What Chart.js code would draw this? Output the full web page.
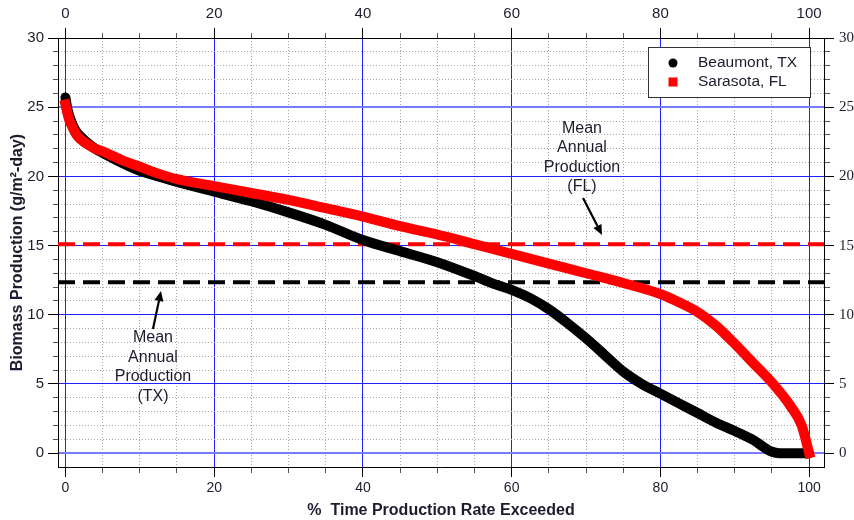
<!DOCTYPE html>
<html>
<head>
<meta charset="utf-8">
<script src="https://cdn.jsdelivr.net/npm/chart.js@4.4.0/dist/chart.umd.min.js"></script>
<style>
html,body{margin:0;padding:0;background:#ffffff;}
#wrap{width:854px;height:520px;position:relative;}
</style>
</head>
<body>
<div id="wrap"><canvas id="c"></canvas></div>
<script>
// ---------- data ----------
const seriesNames = ['Beaumont, TX', 'Sarasota, FL'];

const pctTX = [0, 0.25, 0.5, 1, 1.5, 2, 3, 4, 5, 7.5, 10, 12.5, 15, 20, 25, 30, 35, 40, 45, 50, 55, 57.5, 60, 62.5, 65, 67.5, 70, 72.5, 75, 77.5, 80, 82.5, 85, 87.5, 90, 92.5, 94, 95, 96, 98, 100];
const beaumont = [25.7, 24.9, 24.4, 23.7, 23.2, 22.9, 22.4, 22.0, 21.7, 21.0, 20.4, 20.0, 19.6, 18.9, 18.2, 17.4, 16.5, 15.4, 14.6, 13.8, 12.8, 12.25, 11.8, 11.2, 10.4, 9.4, 8.3, 7.1, 5.9, 5.0, 4.3, 3.6, 2.9, 2.2, 1.6, 0.95, 0.4, 0.1, 0, 0, 0];

const pctFL = [0, 0.25, 0.5, 1, 1.5, 2, 3, 4, 5, 7.5, 10, 12.5, 15, 20, 25, 30, 35, 40, 45, 50, 55, 60, 65, 70, 75, 80, 82.5, 85, 87.5, 90, 92.5, 95, 97.5, 99, 100];
const sarasota = [25.2, 24.6, 24.1, 23.5, 23.0, 22.7, 22.3, 22.0, 21.8, 21.2, 20.7, 20.2, 19.8, 19.3, 18.8, 18.3, 17.7, 17.1, 16.4, 15.8, 15.1, 14.4, 13.7, 13.0, 12.3, 11.5, 10.9, 10.2, 9.2, 7.9, 6.5, 5.1, 3.4, 2.0, 0];

const meanTX = 12.35;
const meanFL = 15.1;

const xTickLabels = [0, 20, 40, 60, 80, 100];
const yTickLabels = [0, 5, 10, 15, 20, 25, 30];
const xMinorStep = 5;
const yMinorStep = 1;
const xRange = [-1, 102];
const yRange = [-1, 30];

const xTitle = '%  Time Production Rate Exceeded';
const yTitle = 'Biomass Production (g/m\u00B2-day)';
const noteFL = ['Mean', 'Annual', 'Production', '(FL)'];
const noteTX = ['Mean', 'Annual', 'Production', '(TX)'];

// ---------- helpers ----------
function tickValues(maxV, step) {
  const a = [];
  for (let i = 0; i * step <= maxV + 1e-9; i++) a.push(+(i * step).toFixed(6));
  return a;
}
const xTicks = tickValues(xTickLabels[xTickLabels.length - 1], xMinorStep);
const yTicks = tickValues(yTickLabels[yTickLabels.length - 1], yMinorStep);
const xMinor = xTicks.filter(v => !xTickLabels.includes(v));
const yMinor = yTicks.filter(v => !yTickLabels.includes(v));
const toPts = (xs, ys) => xs.map((v, i) => ({ x: v, y: ys[i] }));

const SANS = "'Liberation Sans', Arial, sans-serif";
const SERIF = "'Liberation Serif', 'Times New Roman', serif";
const TXT = '#1c1c2e';
const BLUE = '#1f1fff';
const LIGHTBLUE = '#7a7aff';
const DOT = '#a8a8a8';
const setTicks = vals => scale => { scale.ticks = vals.map(v => ({ value: v })); };
const isMajX = c => xTickLabels.includes(c.tick.value);
const isMajY = c => yTickLabels.includes(c.tick.value);
const isEdgeY = c => c.tick.value === yTickLabels[0] || c.tick.value === yTickLabels[yTickLabels.length - 2];

// hidden scale that only draws grid lines
function gridScale(pos, range, vals, color, dash, width) {
  return {
    type: 'linear', position: pos, min: range[0], max: range[1],
    afterBuildTicks: setTicks(vals),
    afterFit: s => { if (pos === 'bottom' || pos === 'top') s.height = 0; else s.width = 0; },
    ticks: { display: false },
    grid: { drawTicks: false, drawOnChartArea: true, color: color, lineWidth: width || 1 },
    border: { display: false, dash: dash }
  };
}

// annotation anchors in data units
const notes = [
  { lines: noteFL, x: 69.46, y: 23.46, from: [69.6, 18.44], to: [72.15, 15.77] },
  { lines: noteTX, x: 11.77, y: 8.32, from: [11.77, 8.97], to: [12.85, 11.71] }
];

const overlay = {
  id: 'overlay',
  afterDatasetsDraw(chart) {
    const { ctx, chartArea: a, scales } = chart;
    const sx = scales.x, sy = scales.y;
    ctx.save();
    // legend box
    const bw = 162, bh = 50;
    const bx = a.right - 14 - bw, by = a.top + 9;
    ctx.fillStyle = '#ffffff';
    ctx.fillRect(bx, by, bw, bh);
    ctx.strokeStyle = '#333333';
    ctx.lineWidth = 1;
    ctx.strokeRect(Math.round(bx) + 0.5, Math.round(by) + 0.5, bw, bh);
    ctx.font = '15.5px ' + SANS;
    ctx.textBaseline = 'middle';
    ctx.textAlign = 'left';
    const mx = bx + 25;
    ctx.fillStyle = '#000000';
    ctx.beginPath(); ctx.arc(mx, by + 16, 4.5, 0, Math.PI * 2); ctx.fill();
    ctx.fillStyle = '#ff0000';
    ctx.fillRect(mx - 4.5, by + 35 - 4.5, 9, 9);
    ctx.fillStyle = TXT;
    ctx.fillText(seriesNames[0], bx + 50, by + 16);
    ctx.fillText(seriesNames[1], bx + 50, by + 35);

    // annotations
    ctx.font = '16px ' + SANS;
    ctx.textAlign = 'center';
    notes.forEach(n => {
      const px = sx.getPixelForValue(n.x);
      const py = sy.getPixelForValue(n.y);
      n.lines.forEach((t, i) => { ctx.fillStyle = TXT; ctx.fillText(t, px, py + i * 19.4); });
      const x0 = sx.getPixelForValue(n.from[0]), y0 = sy.getPixelForValue(n.from[1]);
      const x1 = sx.getPixelForValue(n.to[0]), y1 = sy.getPixelForValue(n.to[1]);
      const ang = Math.atan2(y1 - y0, x1 - x0);
      const hl = 10, hw = 4.5;
      const bxp = x1 - hl * Math.cos(ang), byp = y1 - hl * Math.sin(ang);
      ctx.strokeStyle = '#000'; ctx.lineWidth = 2.2;
      ctx.beginPath(); ctx.moveTo(x0, y0); ctx.lineTo(bxp, byp); ctx.stroke();
      ctx.fillStyle = '#000';
      ctx.beginPath();
      ctx.moveTo(x1, y1);
      ctx.lineTo(bxp + hw * Math.sin(ang), byp - hw * Math.cos(ang));
      ctx.lineTo(bxp - hw * Math.sin(ang), byp + hw * Math.cos(ang));
      ctx.closePath(); ctx.fill();
    });
    ctx.restore();
  }
};

new Chart(document.getElementById('c'), {
  type: 'line',
  data: {
    datasets: [
      { label: seriesNames[1], data: toPts(pctFL, sarasota), borderColor: '#ff0000', backgroundColor: '#ff0000',
        borderWidth: 10, pointRadius: 0, cubicInterpolationMode: 'monotone', borderCapStyle: 'square', order: 1 },
      { label: seriesNames[0], data: toPts(pctTX, beaumont), borderColor: '#000000', backgroundColor: '#000000',
        borderWidth: 10, pointRadius: 0, cubicInterpolationMode: 'monotone', borderCapStyle: 'round', order: 2 },
      { label: 'Mean FL', data: xRange.map(v => ({ x: v, y: meanFL })), borderColor: '#ff0000',
        borderWidth: 4, borderDash: [17, 8], pointRadius: 0, order: 3 },
      { label: 'Mean TX', data: xRange.map(v => ({ x: v, y: meanTX })), borderColor: '#000000',
        borderWidth: 4, borderDash: [17, 8], pointRadius: 0, order: 4 }
    ]
  },
  options: {
    responsive: true,
    maintainAspectRatio: false,
    devicePixelRatio: 1,
    animation: false,
    layout: { padding: 0 },
    plugins: { legend: { display: false }, tooltip: { enabled: false } },
    scales: {
      x: {
        type: 'linear', position: 'bottom', min: xRange[0], max: xRange[1],
        afterBuildTicks: setTicks(xTicks),
        afterFit: s => { s.height = 53; },
        ticks: { autoSkip: false, maxRotation: 0, padding: 3, color: TXT, font: { family: SANS, size: 14 },
          callback: v => xTickLabels.includes(v) ? String(v) : '' },
        grid: { drawOnChartArea: false, tickWidth: 1, tickLength: 10,
          tickColor: c => isMajX(c) ? '#000' : '#555',
          tickBorderDash: c => isMajX(c) ? [] : [5, 20] },
        border: { display: true, color: '#000', width: 1 },
        title: { display: true, text: xTitle, color: TXT, font: { family: SANS, size: 16, weight: 'bold' }, padding: { top: 0, bottom: 0 } }
      },
      xDot: gridScale('bottom', xRange, xMinor, DOT, [1, 2]),
      xBlue: gridScale('bottom', xRange, xTickLabels, BLUE, []),
      x2: {
        type: 'linear', position: 'top', min: xRange[0], max: xRange[1],
        afterBuildTicks: setTicks(xTicks),
        afterFit: s => { s.height = 38; },
        ticks: { autoSkip: false, maxRotation: 0, padding: 5, color: TXT, font: { family: SANS, size: 15 },
          callback: v => xTickLabels.includes(v) ? String(v) : '' },
        grid: { drawOnChartArea: false, tickWidth: 1, tickLength: 10,
          tickColor: c => isMajX(c) ? '#000' : '#555',
          tickBorderDash: c => isMajX(c) ? [] : [0, 5, 5, 20] },
        border: { display: true, color: '#000', width: 1 }
      },
      y: {
        type: 'linear', position: 'left', min: yRange[0], max: yRange[1],
        afterBuildTicks: setTicks(yTicks),
        afterFit: s => { s.width = 58; },
        ticks: { autoSkip: false, padding: 4, color: TXT, font: { family: SANS, size: 15 },
          callback: v => yTickLabels.includes(v) ? String(v) : '' },
        grid: { drawOnChartArea: false, tickWidth: 1, tickLength: 10,
          tickColor: c => isMajY(c) ? '#000' : '#555',
          tickBorderDash: c => isMajY(c) ? [] : [0, 5, 5, 20] },
        border: { display: true, color: '#000', width: 1 },
        title: { display: true, text: yTitle, color: TXT, font: { family: SANS, size: 16, weight: 'bold' }, padding: { top: 8, bottom: 0 } }
      },
      yDot: gridScale('left', yRange, yMinor, DOT, [1, 2]),
      yBlue: gridScale('left', yRange, yTickLabels, c => isEdgeY(c) ? LIGHTBLUE : BLUE, [], c => isEdgeY(c) ? 2 : 1),
      y2: {
        type: 'linear', position: 'right', min: yRange[0], max: yRange[1],
        afterBuildTicks: setTicks(yTicks),
        afterFit: s => { s.width = 30; },
        ticks: { autoSkip: false, padding: 5, color: TXT, font: { family: SERIF, size: 15 },
          callback: v => yTickLabels.includes(v) ? String(v) : '' },
        grid: { drawOnChartArea: false, tickWidth: 1, tickLength: 10,
          tickColor: c => isMajY(c) ? '#000' : '#555',
          tickBorderDash: c => isMajY(c) ? [] : [5, 20] },
        border: { display: true, color: '#000', width: 1 }
      }
    }
  },
  plugins: [overlay]
});
</script>
</body>
</html>
